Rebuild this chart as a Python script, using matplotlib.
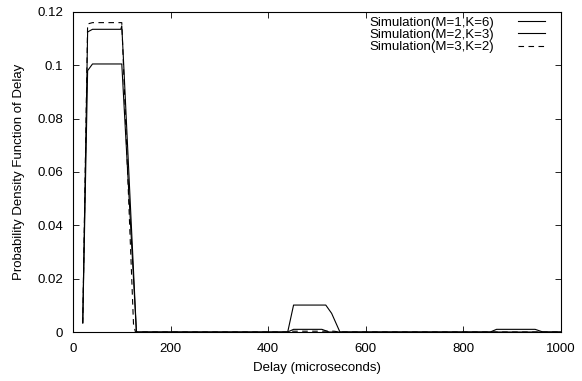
import matplotlib
matplotlib.use("Agg")
import matplotlib.pyplot as plt

plt.rcParams['font.family'] = ['Liberation Sans', 'DejaVu Sans']

# delay (microseconds) / pdf vertices
x_m1k6 = [20, 30, 40, 100, 130, 440, 452, 518, 530, 547, 855, 868, 947, 963, 1000]
y_m1k6 = [0.0034, 0.098, 0.1005, 0.1005, 0.0, 0.0, 0.0101, 0.0101, 0.007, 0.0, 0.0, 0.001, 0.001, 0.0, 0.0]

x_m2k3 = [20, 30, 40, 98, 100, 104, 130, 440, 452, 510, 525, 1000]
y_m2k3 = [0.0034, 0.1125, 0.1135, 0.1135, 0.1148, 0.1, 0.0, 0.0, 0.001, 0.001, 0.0, 0.0]

x_m3k2 = [20, 30, 40, 100, 124, 128, 440, 450, 535, 545, 1000]
y_m3k2 = [0.0034, 0.1155, 0.116, 0.116, 0.003, 0.0, 0.0, 0.0003, 0.0003, 0.0, 0.0]

fig = plt.figure(figsize=(5.82, 3.81), dpi=100)
ax = fig.add_axes([0.1254, 0.1286, 0.8385, 0.84])

ax.plot(x_m1k6, y_m1k6, color='black', linewidth=0.8, label='Simulation(M=1,K=6)')
ax.plot(x_m2k3, y_m2k3, color='black', linewidth=0.8, label='Simulation(M=2,K=3)')
ax.plot(x_m3k2, y_m3k2, color='black', linewidth=0.8, linestyle=(0, (5, 4)),
        label='Simulation(M=3,K=2)')

ax.set_xlim(0, 1000)
ax.set_ylim(0, 0.12)
ax.set_xticks([0, 200, 400, 600, 800, 1000])
ax.set_yticks([0, 0.02, 0.04, 0.06, 0.08, 0.1, 0.12])
ax.set_yticklabels(['0', '0.02', '0.04', '0.06', '0.08', '0.1', '0.12'])
ax.tick_params(direction='in', top=True, right=True, labelsize=9.5, length=4, width=0.6)
ax.tick_params(axis='x', pad=8)
ax.tick_params(axis='y', pad=7)
for s in ax.spines.values():
    s.set_linewidth(0.8)

ax.set_xlabel('Delay (microseconds)', fontsize=9.5, labelpad=5)
ax.set_ylabel('Probability Density Function of Delay', fontsize=9.5, labelpad=9)

ax.legend(loc='upper right', bbox_to_anchor=(0.979, 1.002), frameon=False,
          fontsize=9.5, markerfirst=False, handlelength=2.1, labelspacing=0.0,
          borderaxespad=0.0, handletextpad=1.8)

fig.savefig('out.png', dpi=100)
